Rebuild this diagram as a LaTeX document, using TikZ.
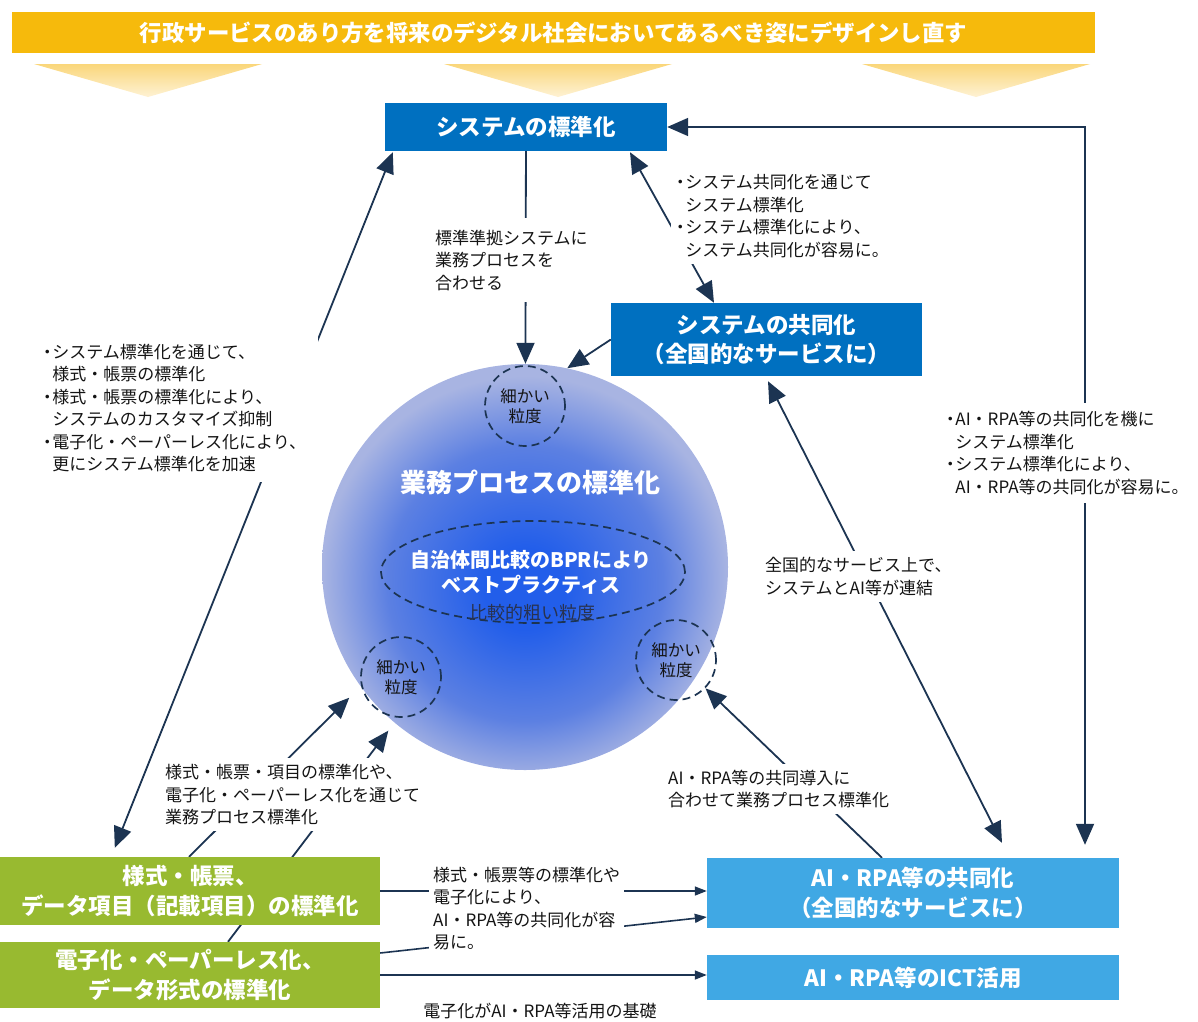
\documentclass[tikz,border=0pt]{standalone}
\usepackage{fontspec}
\setmainfont{Noto Sans CJK JP}
\usetikzlibrary{arrows.meta,calc,shapes.geometric,backgrounds}

\definecolor{bannerorange}{RGB}{246,186,12}
\definecolor{chevron}{RGB}{250,214,122}
\definecolor{chevronlight}{RGB}{254,242,212}
\definecolor{sysblue}{RGB}{0,112,192}
\definecolor{aiblue}{RGB}{64,168,228}
\definecolor{formgreen}{RGB}{152,186,48}
\definecolor{arrownavy}{RGB}{28,52,82}
\definecolor{notegray}{RGB}{20,20,20}
\definecolor{bpin}{RGB}{34,94,234}
\definecolor{bpmid}{RGB}{92,128,226}
\definecolor{bpout}{RGB}{168,180,226}

\pgfdeclareradialshading{bpshade}{\pgfpoint{0bp}{-3bp}}{color(0bp)=(bpin); color(5bp)=(bpin); color(17bp)=(bpmid); color(25bp)=(bpout); color(50bp)=(bpout)}

% narrow bullet for the note lists
\newcommand{\bul}{\makebox[0.6em][c]{・}}
\newcommand{\ind}{\hspace*{0.6em}}

\begin{document}
\begin{tikzpicture}[x=1pt,y=1pt,yscale=-1,
    banner/.style={fill=bannerorange, text=white, minimum width=1083pt, minimum height=41pt,
        inner sep=0pt, font=\fontsize{22.4}{26}\selectfont\bfseries},
    sysbox/.style={fill=sysblue, text=white, align=center, inner sep=0pt,
        font=\fontsize{22.5}{29}\selectfont\bfseries},
    formbox/.style={fill=formgreen, text=white, align=center, inner sep=0pt, minimum width=380pt,
        font=\fontsize{22.5}{30}\selectfont\bfseries},
    aibox/.style={fill=aiblue, text=white, align=center, inner sep=0pt, minimum width=412pt,
        font=\fontsize{22.5}{30}\selectfont\bfseries},
    note/.style={fill=white, text=notegray, align=left, inner xsep=4pt, inner ysep=6pt,
        anchor=west, font=\fontsize{17}{22.5}\selectfont},
    finebox/.style={circle, draw=arrownavy, line width=1.7pt, dash pattern=on 8pt off 5pt,
        minimum size=80pt, inner sep=0pt, align=center, text=notegray,
        font=\fontsize{16.5}{20}\selectfont},
    arr/.style={draw=arrownavy, line width=1.8pt, -{Triangle[length=21pt,width=18pt]}},
    arrtwo/.style={draw=arrownavy, line width=1.8pt, {Triangle[length=21pt,width=18pt]}-{Triangle[length=21pt,width=18pt]}},
    arrs/.style={draw=arrownavy, line width=1.6pt, -{Triangle[length=12pt,width=9pt]}}]
\useasboundingbox (0,0) rectangle (1198,1021);

%Banner
\node[banner] (title) at (553.5,32.5) {行政サービスのあり方を将来のデジタル社会においてあるべき姿にデザインし直す};
%Chevrons under the banner
\foreach \cx in {148,558,976}
    \shade[top color=chevron, bottom color=chevronlight] (\cx-114,64) -- (\cx+114,64) -- (\cx,97) -- cycle;

%Process ball
\begin{pgfonlayer}{background}
\node[circle, shade, shading=bpshade, minimum size=406pt, inner sep=0pt] (bp) at (525,567) {};
\end{pgfonlayer}
\node[finebox] (fine1) at (525,406) {細かい\\粒度};
\node[finebox] (fine2) at (401,677) {細かい\\粒度};
\node[finebox] (fine3) at (676,660) {細かい\\粒度};
\node[ellipse, draw=arrownavy, line width=1.7pt, dash pattern=on 8pt off 5pt,
    minimum width=304pt, minimum height=102pt] (bpr) at (533,572) {};
\node[text=white, font=\fontsize{26}{30}\selectfont\bfseries] (bptitle) at (530,482) {業務プロセスの標準化};
\node[text=white, align=center, font=\fontsize{20}{25}\selectfont\bfseries] (bprtext) at (531,572) {自治体間比較のBPRにより\\ベストプラクティス};
\node[text={rgb,255:red,40;green,50;blue,80}, font=\fontsize{18}{22}\selectfont] (coarse) at (532,613) {比較的粗い粒度};

%Boxes
\node[sysbox, minimum width=282pt, minimum height=48pt] (sysstd) at (526,127) {システムの標準化};
\node[sysbox, minimum width=311pt, minimum height=73pt] (syscom) at (766.5,339.5) {システムの共同化\\（全国的なサービスに）};
\node[formbox, minimum height=68pt] (forms) at (190,891) {様式・帳票、\\データ項目（記載項目）の標準化};
\node[formbox, minimum height=66pt] (paperless) at (190,975) {電子化・ペーパーレス化、\\データ形式の標準化};
\node[aibox, minimum height=70pt] (aicom) at (913,893) {AI・RPA等の共同化\\（全国的なサービスに）};
\node[aibox, minimum height=45pt] (aiict) at (913,977.5) {AI・RPA等のICT活用};

% Text Node
\node[note, inner ysep=12pt] (fitlabel) at (431,260) {標準準拠システムに\\業務プロセスを\\合わせる};
% Text Node
\node[note] (synlabel) at (671,216) {\bul システム共同化を通じて\\\ind システム標準化\\\bul システム標準化により、\\\ind システム共同化が容易に。};
% Text Node
\node[note, text width=272pt, inner ysep=10pt] (leftlabel) at (38,408) {\bul システム標準化を通じて、\\\ind 様式・帳票の標準化\\\bul 様式・帳票の標準化により、\\\ind システムのカスタマイズ抑制\\\bul 電子化・ペーパーレス化により、\\\ind 更にシステム標準化を加速};
% Text Node
\node[note, inner ysep=8pt] (rightlabel) at (941,453) {\bul AI・RPA等の共同化を機に\\\ind システム標準化\\\bul システム標準化により、\\\ind AI・RPA等の共同化が容易に。};
% Text Node
\node[note] (natlabel) at (761,576.5) {全国的なサービス上で、\\システムとAI等が連結};
% Text Node
\node[note] (jointlabel) at (664,789) {AI・RPA等の共同導入に\\合わせて業務プロセス標準化};
% Text Node
\node[note] (formlabel) at (161,794.5) {様式・帳票・項目の標準化や、\\電子化・ペーパーレス化を通じて\\業務プロセス標準化};
% Text Node
\node[note] (hlabel) at (429,908.5) {様式・帳票等の標準化や\\電子化により、\\AI・RPA等の共同化が容\\易に。};
% Text Node
\node[note, anchor=center] (basis) at (540,1011) {電子化がAI・RPA等活用の基礎};

%Connectors
\begin{pgfonlayer}{background}
\draw[arr] (sysstd) -- (bp);
\draw[arr] (syscom.west) -- (bp.78);
\draw[arrtwo] ($(sysstd.south)+(104,1)$) -- ($(syscom.north)+(-52.5,0)$);
\draw[arrtwo] (sysstd.east) -| ($(aicom.north)+(172,-13)$);
\draw[arrtwo] ($(syscom.south)+(1.5,5)$) -- ($(aicom.north)+(89,-15)$);
\draw[arr] ($(aicom.north)+(-31,0)$) -- (fine3);
\draw[arrtwo] ($(sysstd.south west)+(8,1)$) -- ($(forms.north west)+(115,-9)$);
\draw[arr, shorten >=16pt] ($(forms.north)+(-1,0)$) -- (bp.216);
\draw[arr, shorten >=10pt] ($(paperless.north)+(38,0)$) -- (bp.230);
\draw[arrs] (forms.east) -- (forms.east -| aicom.west);
\draw[arrs] ($(paperless.east)+(0,-22)$) -- ($(aicom.west)+(0,24)$);
\draw[arrs] (paperless.east) -- (paperless.east -| aiict.west);
\end{pgfonlayer}
\end{tikzpicture}
\end{document}
